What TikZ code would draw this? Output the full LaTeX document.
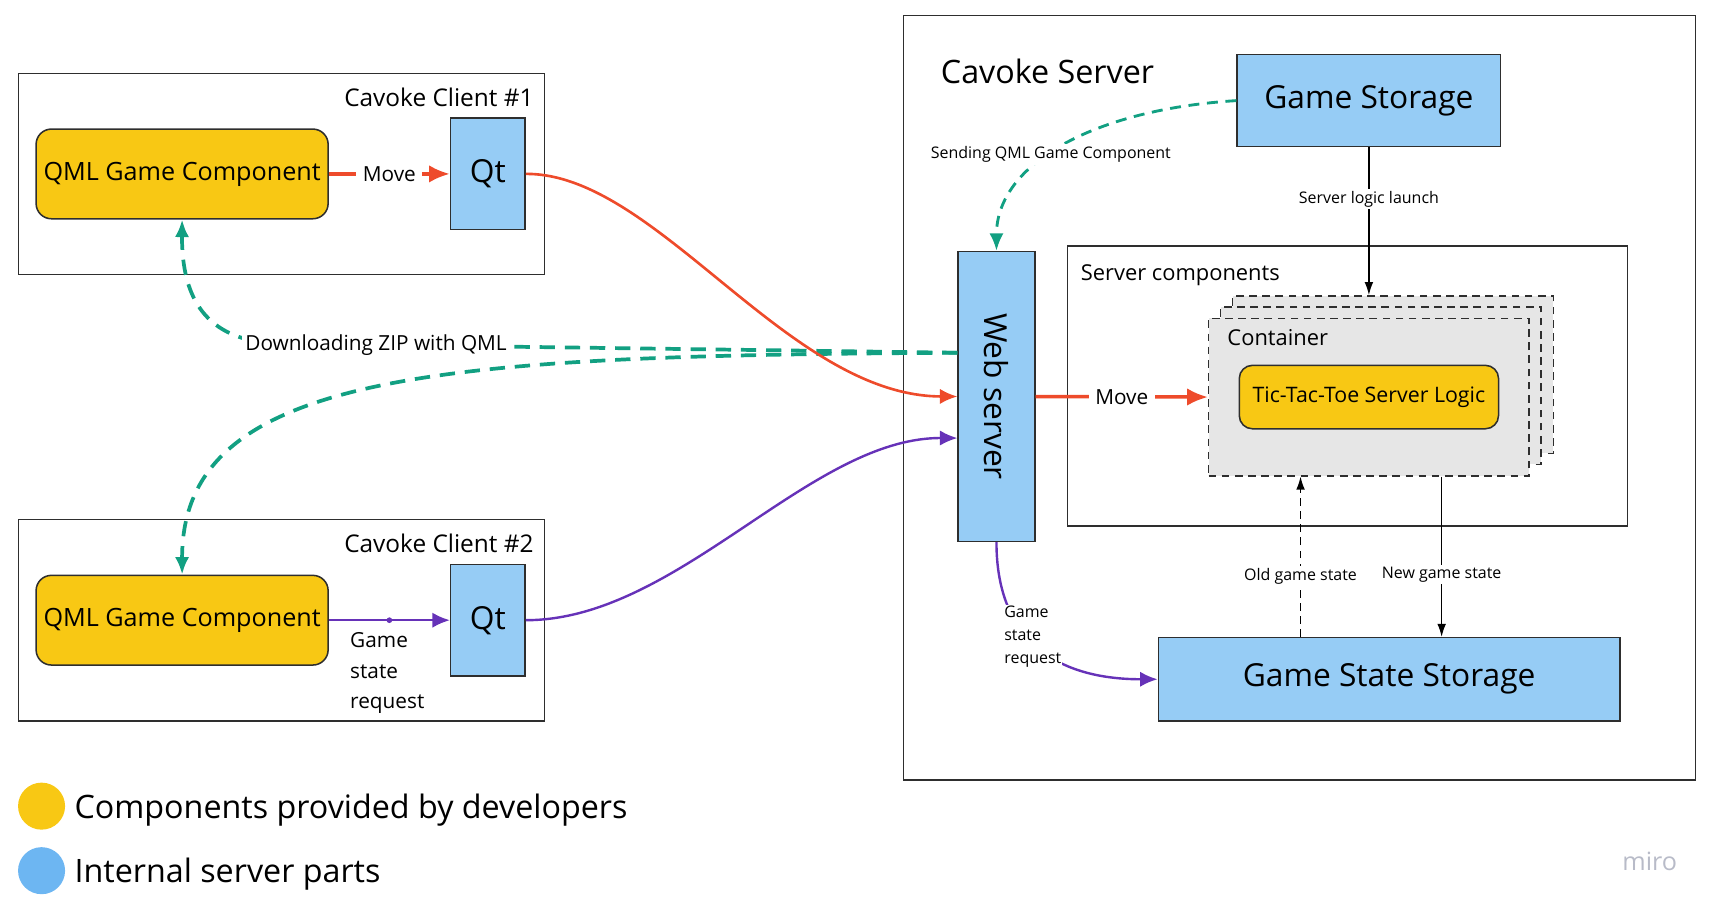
\documentclass[tikz,border=0pt]{standalone}
\usepackage{fontspec}
\setmainfont{Open Sans}
\usetikzlibrary{arrows.meta}
\definecolor{devyellow}{HTML}{F8C814}
\definecolor{partblue}{HTML}{96CCF5}
\definecolor{legendblue}{HTML}{6DB6F2}
\definecolor{movered}{HTML}{EE4B2B}
\definecolor{statepurple}{HTML}{6632B8}
\definecolor{zipteal}{HTML}{12A082}
\definecolor{framegray}{HTML}{2E2E2E}
\definecolor{containergray}{HTML}{E6E6E6}
\definecolor{mirogray}{HTML}{B8BBC8}

\begin{document}
\begin{tikzpicture}[x=1pt, y=-1pt,
    groupbox/.style={draw=framegray, line width=1.4pt, inner sep=0pt},
    devpart/.style={draw=framegray, line width=1.4pt, fill=devyellow, rounded corners=14pt, inner sep=0pt, font=\fontsize{23}{27}\selectfont},
    srvpart/.style={draw=framegray, line width=1.4pt, fill=partblue, inner sep=0pt, font=\fontsize{29}{34}\selectfont},
    stackbox/.style={draw=framegray, line width=1.3pt, dash pattern=on 7pt off 5pt, fill=containergray, inner sep=0pt, minimum width=293pt, minimum height=144pt},
    boxtitle/.style={inner sep=0pt, font=\fontsize{22.3}{27}\selectfont},
    onwire/.style={fill=white, inner xsep=6pt, inner ysep=2pt, font=\fontsize{19}{23}\selectfont},
    smallwire/.style={fill=white, inner sep=2pt, font=\fontsize{14.6}{21}\selectfont},
    movewire/.style={draw=movered, line width=2.4pt, -{Latex[length=16pt,width=14pt]}},
    straightmove/.style={line width=3.2pt, -{Latex[length=19pt,width=16pt]}},
    statewire/.style={draw=statepurple, line width=2.2pt, -{Latex[length=16pt,width=14pt]}},
    zipwire/.style={draw=zipteal, line width=3.4pt, dash pattern=on 14pt off 9pt, -{Latex[length=16pt,width=13pt]}},
    sendwire/.style={line width=2.6pt, dash pattern=on 10pt off 7pt},
    plainwire/.style={draw=black, line width=1.3pt, -{Latex[length=12pt,width=8pt]}}
  ]
      \useasboundingbox (0,0) rectangle (1567,833);

      \node[groupbox, minimum width=481pt, minimum height=184pt] (clientA) at (257.5,159) {};
      \node[boxtitle, anchor=base east] (clientAname) at (488,97) {Cavoke Client \#1};
      \node[devpart, minimum width=267pt, minimum height=82pt] (qmlA) at (166.5,159) {QML Game Component};
      \node[srvpart, minimum width=68pt, minimum height=102pt] (qtA) at (446,159) {Qt};

      \node[groupbox, minimum width=481pt, minimum height=184pt] (clientB) at (257.5,567) {};
      \node[boxtitle, anchor=base east] (clientBname) at (488,505) {Cavoke Client \#2};
      \node[devpart, minimum width=267pt, minimum height=82pt] (qmlB) at (166.5,567) {QML Game Component};
      \node[srvpart, minimum width=68pt, minimum height=102pt] (qtB) at (446,567) {Qt};

      \node[groupbox, minimum width=724pt, minimum height=699pt] (server) at (1188,363.5) {};
      \node[inner sep=0pt, anchor=base west, font=\fontsize{29.5}{35}\selectfont] (servername) at (860,76) {Cavoke Server};
      \node[srvpart, minimum width=241pt, minimum height=84pt] (gamestore) at (1251.5,92) {Game Storage};
      \node[srvpart, minimum width=70pt, minimum height=265pt] (web) at (911,362.5) {};
      \node[rotate=-90, inner sep=0pt, font=\fontsize{29}{34}\selectfont] (webname) at (web.center) {Web server};

      \node[groupbox, minimum width=512pt, minimum height=256pt] (parts) at (1232,353) {};
      \node[inner sep=0pt, anchor=base west, font=\fontsize{20}{24}\selectfont] (partsname) at (988,256) {Server components};
      \node[stackbox] (backbox) at (1273.5,342.5) {};
      \node[stackbox] (midbox) at (1262.5,352.5) {};
      \node[stackbox] (frontbox) at (1251.5,363) {};
      \node[inner sep=0pt, anchor=base west, font=\fontsize{20}{24}\selectfont] (frontname) at (1122,316) {Container};
      \node[devpart, rounded corners=12pt, minimum width=237pt, minimum height=58pt, font=\fontsize{19.5}{23}\selectfont] (logic) at (1251.5,363) {Tic-Tac-Toe Server Logic};
      \node[srvpart, minimum width=422pt, minimum height=76pt] (statestore) at (1270,621) {Game State Storage};

      \node[circle, fill=devyellow, minimum size=43pt, inner sep=0pt] (legdev) at (38,737) {};
      \node[inner sep=0pt, anchor=base west, font=\fontsize{29.5}{36}\selectfont] (legdevtext) at (68,748) {Components provided by developers};
      \node[circle, fill=legendblue, minimum size=43pt, inner sep=0pt] (legsrv) at (38,796) {};
      \node[inner sep=0pt, anchor=base west, font=\fontsize{29.5}{36}\selectfont] (legsrvtext) at (68,807) {Internal server parts};
      \node[inner sep=0pt, anchor=base west, text=mirogray, font=\fontsize{23}{27}\selectfont] (miro) at (1483,796) {miro};

      \draw[zipwire] ([yshift=40pt]web.west) -- node[onwire, inner xsep=3pt, pos=0.85] (ziplabel) {Downloading ZIP with QML} (250,314) .. controls (190,310) and (166,275) .. (qmlA.south);
      \draw[zipwire] ([yshift=40pt]web.west) .. controls (400,325) and (166,340) .. (qmlB.north);
      \draw[zipwire, sendwire] (gamestore.west) .. controls (1000,100) and (911,150) .. node[smallwire, pos=0.55] (sendlabel) {Sending QML Game Component} (web.north);

      \draw[movewire, straightmove] (qmlA) -- node[onwire] (moveA) {Move} (qtA);
      \draw[movewire] (qtA.east) .. controls (600,158) and (720,362) .. (web.west);
      \draw[movewire, straightmove] (web.east) -- node[onwire] (moveC) {Move} (frontbox.west);

      \draw[statewire] (qmlB) -- coordinate[pos=0.5] (dotB) (qtB);
      \fill[statepurple] (dotB) circle (2.6pt);
      \node[anchor=north west, align=left, inner sep=0pt, font=\fontsize{19}{28}\selectfont] (requestB) at (320,578) {Game\\state\\request};
      \draw[statewire] (qtB.east) .. controls (620,567) and (740,400) .. ([yshift=-38pt]web.west);
      \draw[statewire] (web.south) .. controls (911,580) and (960,621) .. (statestore.west);
      \node[anchor=north west, align=left, fill=white, inner sep=1pt, font=\fontsize{14.6}{21}\selectfont] (requestC) at (917,553) {Game\\state\\request};

      \draw[plainwire] (gamestore.south) -- node[smallwire, pos=0.35] (launchlabel) {Server logic launch} (gamestore.south |- backbox.north);
      \path ([xshift=-81pt]statestore.north) coordinate (oldlow);
      \draw[plainwire, dash pattern=on 7pt off 5pt] (oldlow) -- node[smallwire, pos=0.38] (oldlabel) {Old game state} (oldlow |- frontbox.south);
      \path ([xshift=66.5pt]frontbox.south) coordinate (newtop);
      \draw[plainwire] (newtop) -- node[smallwire, pos=0.61] (newlabel) {New game state} (newtop |- statestore.north);

    \end{tikzpicture}
\end{document}
